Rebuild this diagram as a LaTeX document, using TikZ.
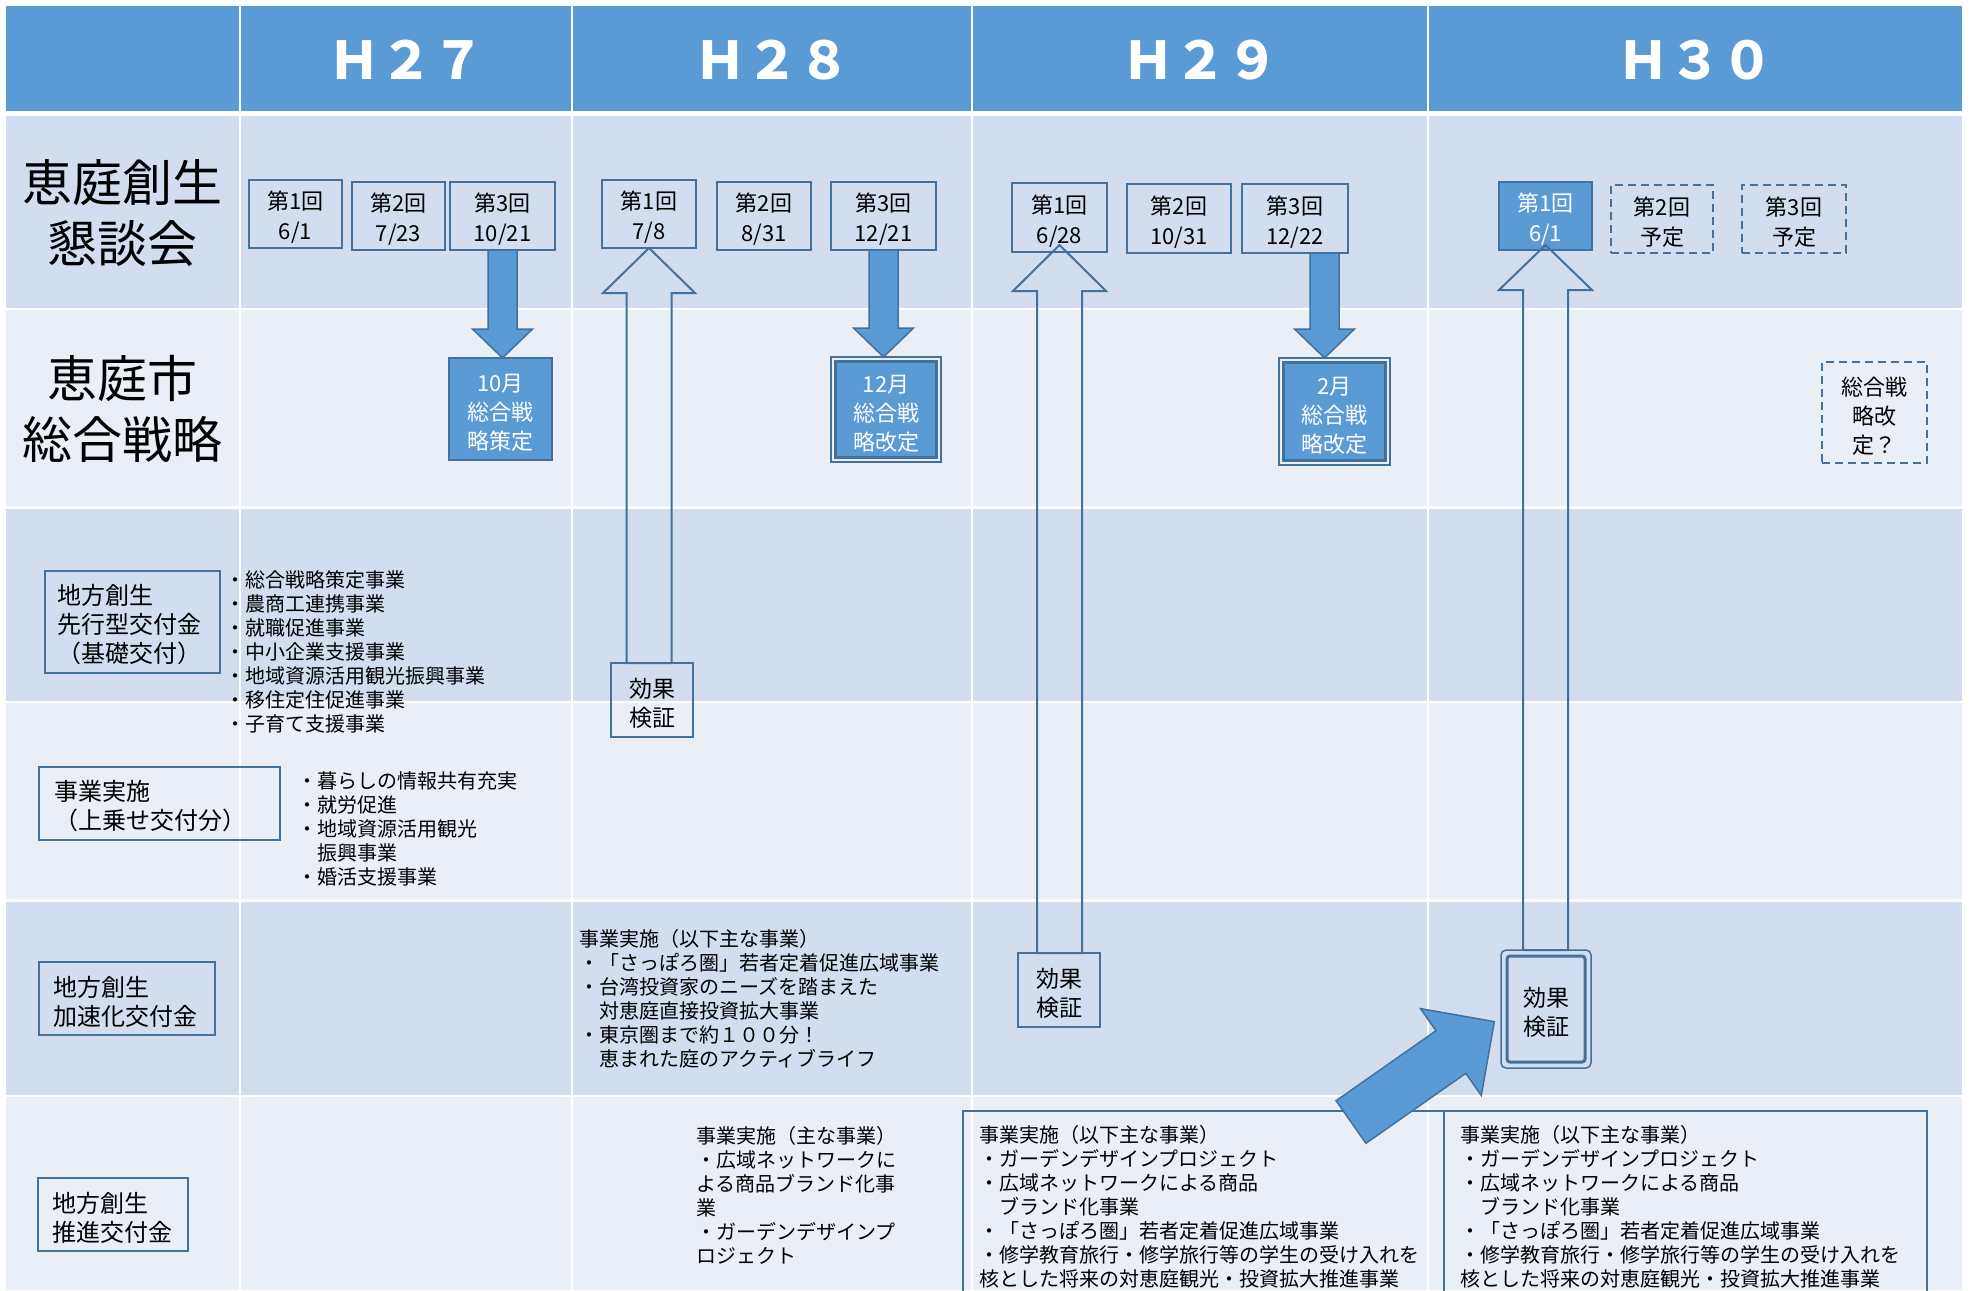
\documentclass[tikz,border=0pt]{standalone}
\usepackage{fontspec}
\setmainfont{Noto Sans CJK JP}
\usetikzlibrary{calc}
\definecolor{hdr}{HTML}{5B9BD5}
\definecolor{bandA}{HTML}{D2DEEF}
\definecolor{bandB}{HTML}{EAEFF7}
\definecolor{edge}{HTML}{41719C}
\definecolor{fillb}{HTML}{5B9BD5}
\newcommand\myhs{\rule{0pt}{25pt}}
\newcommand\myhl{\rule{0pt}{26pt}}
\begin{document}
\begin{tikzpicture}[x=1pt,y=-1pt,line join=miter,
  every node/.style={inner sep=0pt,outer sep=0pt},
  gridline/.style={white,line width=2.5pt},
  hdrtxt/.style={text=white,font=\fontsize{52}{52}\selectfont\bfseries},
  biglbl/.style={align=center,font=\fontsize{50}{61}\selectfont},
  mtgbox/.style={draw=edge,line width=2pt,align=center,font=\fontsize{22}{30}\selectfont,minimum height=68pt},
  mtgfilled/.style={mtgbox,fill=fillb,text=white},
  mtgdashed/.style={mtgbox,dash pattern=on 8pt off 5pt},
  stratbox/.style={draw=edge,line width=2pt,fill=fillb,text=white,align=center,font=\fontsize{22}{29}\selectfont},
  stratdash/.style={draw=edge,line width=2pt,dash pattern=on 8pt off 5pt,align=center,font=\fontsize{22}{29}\selectfont},
  kvbox/.style={draw=edge,line width=2pt,align=center,font=\fontsize{23}{29}\selectfont},
  lbox/.style={draw=edge,line width=2pt,align=left,font=\fontsize{24}{29}\selectfont},
  lst/.style={anchor=north west,align=left,font=\fontsize{20}{24}\selectfont},
  harrow/.style={draw=edge,line width=2pt},
  farrow/.style={draw=edge,fill=fillb,line width=1.5pt}]
\useasboundingbox (0,0) rectangle (1972,1290);
\clip (0,0) rectangle (1972,1290);
% background table
\fill[white] (0,0) rectangle (1972,1290);
\fill[hdr] (6,6) rectangle (1962,111);
\fill[bandA] (6,116) rectangle (1962,309);
\fill[bandB] (6,309) rectangle (1962,507.5);
\fill[bandA] (6,507.5) rectangle (1962,702);
\fill[bandB] (6,702) rectangle (1962,900.5);
\fill[bandA] (6,900.5) rectangle (1962,1096);
\fill[bandB] (6,1096) rectangle (1962,1290);
\foreach \yy in {309,507.5,702,900.5,1096} \draw[gridline] (6,\yy) -- (1962,\yy);
\foreach \xx in {240,572,972,1428} \draw[gridline] (\xx,6) -- (\xx,1290);
% header
\node[hdrtxt] (hA) at (406,60) {Ｈ２７};
\node[hdrtxt] (hB) at (772,60) {Ｈ２８};
\node[hdrtxt] (hC) at (1200,60) {Ｈ２９};
\node[hdrtxt] (hD) at (1695,60) {Ｈ３０};
% left labels
\node[biglbl] (lab1) at (122,213) {恵庭創生\\懇談会};
\node[biglbl] (lab2) at (122,409) {恵庭市\\総合戦略};
\node[lbox,text width=151pt,inner xsep=12pt,minimum height=102pt] (f1) at (132.5,622) {\myhl 地方創生\\先行型交付金\\（基礎交付）};
\node[lbox,text width=211pt,inner xsep=15pt,minimum height=73pt] (f2) at (159.5,803.5) {\myhl 事業実施\\（上乗せ交付分）};
\node[lbox,text width=148pt,inner xsep=14pt,minimum height=73pt] (f3) at (127,998.5) {\myhl 地方創生\\加速化交付金};
\node[lbox,text width=122pt,inner xsep=14pt,minimum height=73pt] (f4) at (113,1214.5) {\myhl 地方創生\\推進交付金};
% meetings
\node[mtgbox,minimum width=93pt] (b27k1) at (295.5,214) {\myhs 第1回\\6/1};
\node[mtgbox,minimum width=93pt] (b27k2) at (398.5,216) {\myhs 第2回\\7/23};
\node[mtgbox,minimum width=105pt] (b27k3) at (502.5,216) {\myhs 第3回\\10/21};
\node[mtgbox,minimum width=94pt] (b28k1) at (649,214) {\myhs 第1回\\7/8};
\node[mtgbox,minimum width=94pt] (b28k2) at (764,216) {\myhs 第2回\\8/31};
\node[mtgbox,minimum width=105pt] (b28k3) at (883.5,216) {\myhs 第3回\\12/21};
\node[mtgbox,minimum width=95pt,minimum height=69pt] (b29k1) at (1059.5,217.5) {\myhs 第1回\\6/28};
\node[mtgbox,minimum width=104pt,minimum height=69pt] (b29k2) at (1179,218.5) {\myhs 第2回\\10/31};
\node[mtgbox,minimum width=106pt,minimum height=69pt] (b29k3) at (1295,218.5) {\myhs 第3回\\12/22};
\node[mtgfilled,minimum width=93pt] (b30k1) at (1545.5,216) {\myhs 第1回\\6/1};
\node[mtgdashed,minimum width=102pt] (b30k2) at (1662,219) {\myhs 第2回\\予定};
\node[mtgdashed,minimum width=104pt] (b30k3) at (1794,219) {\myhs 第3回\\予定};
% strategy boxes
\node[stratbox,minimum width=103pt,minimum height=102pt] (s27) at (500.5,409) {\myhs 10月\\総合戦\\略策定};
\node[stratbox,line width=3pt,minimum width=101pt,minimum height=96pt] (s28) at (886,409.5) {\myhs 12月\\総合戦\\略改定};
\draw[edge,line width=1.5pt] ($(s28.north west)+(-4.5,-4.5)$) rectangle ($(s28.south east)+(4.5,4.5)$);
\node[stratbox,line width=3pt,minimum width=102pt,minimum height=98pt] (s29) at (1334.5,411.5) {\myhs 2月\\総合戦\\略改定};
\draw[edge,line width=1.5pt] ($(s29.north west)+(-4.5,-4.5)$) rectangle ($(s29.south east)+(4.5,4.5)$);
\node[stratdash,minimum width=105pt,minimum height=101pt] (s30) at (1874.5,412.5) {\myhs 総合戦\\略改\\定？};
% effect verification boxes
\node[kvbox,minimum width=82pt,minimum height=74pt] (v28) at (652,700) {\myhs 効果\\検証};
\node[kvbox,minimum width=82pt,minimum height=74pt] (v29) at (1059,990) {\myhs 効果\\検証};
\node[kvbox,line width=3pt,rounded corners=3pt,minimum width=78pt,minimum height=106pt] (v30) at (1546,1009) {\myhs 効果\\検証};
\draw[edge,line width=1.5pt,rounded corners=5pt] ($(v30.north west)+(-6,-6)$) rectangle ($(v30.south east)+(6,6)$);
% lists
\node[lst] (l1) at (225,571) {・総合戦略策定事業\\・農商工連携事業\\・就職促進事業\\・中小企業支援事業\\・地域資源活用観光振興事業\\・移住定住促進事業\\・子育て支援事業};
\node[lst] (l2) at (297,772) {・暮らしの情報共有充実\\・就労促進\\・地域資源活用観光\\　振興事業\\・婚活支援事業};
\node[lst] (t28a) at (579,929) {事業実施（以下主な事業）\\・「さっぽろ圏」若者定着促進広域事業\\・台湾投資家のニーズを踏まえた\\　対恵庭直接投資拡大事業\\・東京圏まで約１００分！\\　恵まれた庭のアクティブライフ};
\node[lst] (t28b) at (696,1126) {事業実施（主な事業）\\・広域ネットワークに\\よる商品ブランド化事\\業\\・ガーデンデザインプ\\ロジェクト};
\node[lst,draw=edge,line width=2pt,inner xsep=16pt,inner ysep=14pt,text width=449pt] (t29) at (963,1111) {事業実施（以下主な事業）\\・ガーデンデザインプロジェクト\\・広域ネットワークによる商品\\　ブランド化事業\\・「さっぽろ圏」若者定着促進広域事業\\・修学教育旅行・修学旅行等の学生の受け入れを\\核とした将来の対恵庭観光・投資拡大推進事業};
\node[lst,draw=edge,line width=2pt,inner xsep=16pt,inner ysep=14pt,text width=451pt] (t30) at (1444,1111) {事業実施（以下主な事業）\\・ガーデンデザインプロジェクト\\・広域ネットワークによる商品\\　ブランド化事業\\・「さっぽろ圏」若者定着促進広域事業\\・修学教育旅行・修学旅行等の学生の受け入れを\\核とした将来の対恵庭観光・投資拡大推進事業};
% down filled arrows
\draw[farrow] ($(b27k3.south)+(-14.5,0)$) -- ($(b27k3.south)+(14.5,0)$) -- ($(b27k3.south |- s27.north)+(14.5,-29)$) -- ++(15.5,0) -- (b27k3.south |- s27.north) -- ($(b27k3.south |- s27.north)+(-30,-29)$) -- ++(15.5,0) -- cycle;
\draw[farrow] ($(b28k3.south)+(-14.5,0)$) -- ($(b28k3.south)+(14.5,0)$) -- ($(b28k3.south |- s28.north)+(14.5,-33.5)$) -- ++(15.5,0) -- ($(b28k3.south |- s28.north)+(0,-4.5)$) -- ($(b28k3.south |- s28.north)+(-30,-33.5)$) -- ++(15.5,0) -- cycle;
\coordinate (d29) at ($(b29k3.south)+(29.5,0)$);
\draw[farrow] ($(d29)+(-14.5,0)$) -- ($(d29)+(14.5,0)$) -- ($(d29 |- s29.north)+(14.5,-33.5)$) -- ++(15.5,0) -- ($(d29 |- s29.north)+(0,-4.5)$) -- ($(d29 |- s29.north)+(-30,-33.5)$) -- ++(15.5,0) -- cycle;
% hollow up arrows
\draw[harrow] (b28k1.south) -- ++(46,45) -- ++(-23.5,0) -- ($(b28k1.south |- v28.north)+(22.5,0)$) -- ($(b28k1.south |- v28.north)+(-22.5,0)$) -- ($(b28k1.south)+(-22.5,45)$) -- ++(-23.5,0) -- cycle;
\coordinate (u29) at ($(b29k1.south)+(0,-7)$);
\draw[harrow] (u29) -- ++(46.5,46) -- ++(-24,0) -- ($(u29 |- v29.north)+(22.5,0)$) -- ($(u29 |- v29.north)+(-22.5,0)$) -- ($(u29)+(-22.5,46)$) -- ++(-24,0) -- cycle;
\coordinate (u30) at ($(b30k1.south)+(0,-5)$);
\draw[harrow] (u30) -- ++(46.5,45) -- ++(-24,0) -- ($(u30 |- v30.north)+(22.5,-6)$) -- ($(u30 |- v30.north)+(-22.5,-6)$) -- ($(u30)+(-22.5,45)$) -- ++(-24,0) -- cycle;
% big diagonal arrow toward the H30 verification
\draw[farrow] (1336.1,1100.7) -- (1436.0,1030.7) -- (1420.5,1008.6) -- (1494.3,1021.6) -- (1481.3,1095.4) -- (1465.8,1073.3) -- (1365.9,1143.3) -- cycle;
\end{tikzpicture}
\end{document}
